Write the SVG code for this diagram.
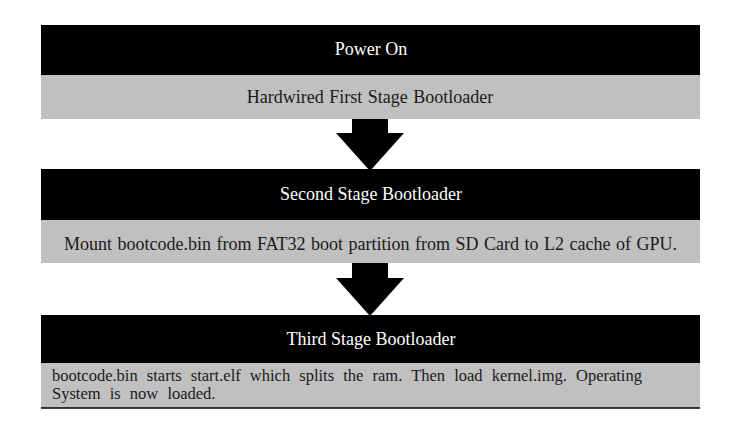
<svg xmlns="http://www.w3.org/2000/svg" width="756" height="426" viewBox="0 0 756 426">
<style>
text{font-family:"Liberation Serif","Times New Roman","DejaVu Serif",serif}
.hdr{fill:#000000}
.body{fill:#c0c0c0}
.ht{font-size:18px;fill:#ffffff;text-anchor:middle}
.bt{font-size:18px;fill:#1a1a1a;text-anchor:middle;word-spacing:1px}
.bl{font-size:16.5px;fill:#1a1a1a;word-spacing:5px}
.arrow{fill:#000000}
</style>
<rect width="756" height="426" fill="#ffffff"/>
<g id="stage1">
<rect class="hdr" x="41" y="25" width="659" height="50"/>
<text class="ht" x="371" y="55">Power On</text>
<rect class="body" x="41" y="75" width="659" height="44"/>
<text class="bt" x="370" y="103">Hardwired First Stage Bootloader</text>
</g>
<g id="stage2">
<rect class="hdr" x="41" y="169" width="659" height="51"/>
<text class="ht" x="371" y="200">Second Stage Bootloader</text>
<rect class="body" x="41" y="220" width="659" height="43"/>
<text class="bt" x="370.5" y="250">Mount bootcode.bin from FAT32 boot partition from SD Card to L2 cache of GPU.</text>
</g>
<g id="stage3">
<rect class="hdr" x="41" y="315" width="659" height="48"/>
<text class="ht" x="371" y="345">Third Stage Bootloader</text>
<rect class="body" x="41" y="363" width="659" height="45"/>
<line x1="41" y1="408" x2="700" y2="408" stroke="#000000" stroke-width="1.5"/>
<text class="bl" x="52" y="381">bootcode.bin starts start.elf which splits the ram. Then load kernel.img. Operating</text>
<text class="bl" x="52" y="399">System is now loaded.</text>
</g>
<g id="connectors">
<polygon class="arrow" points="352,119 388,119 388,133 404,133 370,171 336,133 352,133"/>
<polygon class="arrow" points="352,263 388,263 388,278 404,278 370,316 336,278 352,278"/>
</g>
</svg>
